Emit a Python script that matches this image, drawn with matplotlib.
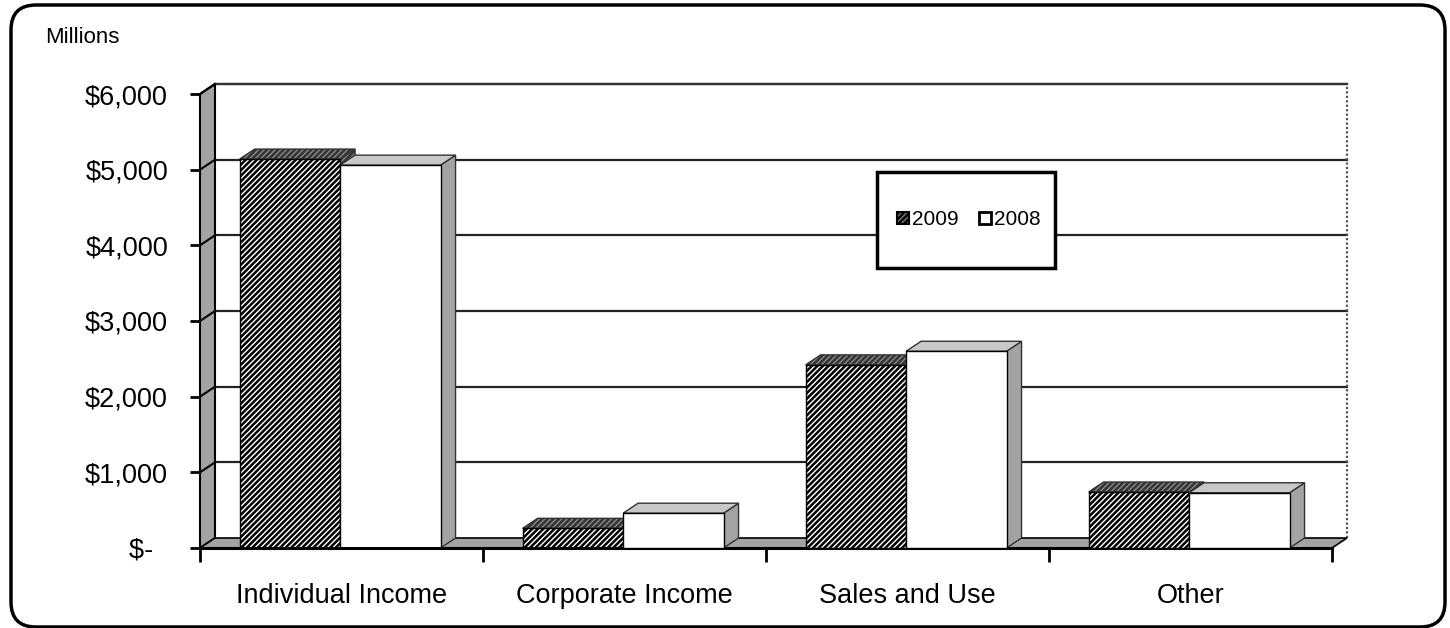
import matplotlib
matplotlib.use("Agg")
import matplotlib.pyplot as plt
import matplotlib.patches as mpatches
from matplotlib.transforms import IdentityTransform

categories = ["Individual Income", "Corporate Income", "Sales and Use", "Other"]
years = ["2009", "2008"]
values_2009 = [5140, 260, 2420, 740]
values_2008 = [5060, 460, 2600, 730]
ytick_values = [0, 1000, 2000, 3000, 4000, 5000, 6000]
ytick_labels = ["$-  ", "$1,000", "$2,000", "$3,000", "$4,000", "$5,000", "$6,000"]

plt.rcParams['font.family'] = ['Liberation Sans', 'DejaVu Sans']
plt.rcParams['hatch.linewidth'] = 1.8

W, H = 1450, 628
fig = plt.figure(figsize=(W / 100, H / 100), dpi=100)
ax = fig.add_axes([200 / W, (H - 548) / H, 1132 / W, 454 / H])
n = len(categories)
ax.set_xlim(0, n)
ax.set_ylim(0, 6000)
for s in ax.spines.values():
    s.set_visible(False)
ax.patch.set_visible(False)

# depth offset in data units (15 px right, 10 px up)
dx = 15 / 1132 * n
dy = 10 / 454 * 6000
ymax = 6000

grey = '#a3a3a3'
light = '#c8c8c8'

# back wall
ax.add_patch(mpatches.Polygon([(dx, dy), (n + dx, dy), (n + dx, ymax + dy), (dx, ymax + dy)],
                              closed=True, facecolor='white', edgecolor='none', zorder=0, clip_on=False))
for v in ytick_values[1:]:
    ax.plot([dx, n + dx], [v + dy, v + dy], color='#222222', lw=1.6, zorder=1, clip_on=False)
ax.plot([dx, n + dx], [ymax + dy, ymax + dy], color='#333333', lw=1.6, zorder=1, clip_on=False)
ax.plot([n + dx, n + dx], [dy, ymax + dy], color='#555555', lw=1.6, ls=(0, (1, 1)), zorder=1, clip_on=False)

# left wall
ax.add_patch(mpatches.Polygon([(0, 0), (dx, dy), (dx, ymax + dy), (0, ymax)],
                              closed=True, facecolor=grey, edgecolor='black', lw=1.5, zorder=2, clip_on=False))
for v in ytick_values[1:]:
    ax.plot([0, dx], [v, v + dy], color='black', lw=1.5, zorder=2.5, clip_on=False)

# floor
ax.add_patch(mpatches.Polygon([(0, 0), (n, 0), (n + dx, dy), (dx, dy)],
                              closed=True, facecolor=grey, edgecolor='black', lw=1.2, zorder=2, clip_on=False))
ax.plot([0, n], [0, 0], color='black', lw=2.2, zorder=6, clip_on=False)

bw = 0.355
off = [0.14, 0.495]
series = [values_2009, values_2008]
z = 3
for i in range(n):
    for k in range(2):
        x0 = i + off[k]
        v = series[k][i]
        if k == 0:
            fc_front, fc_top, fc_side, hatch = 'white', '#888888', '#888888', '//////'
        else:
            fc_front, fc_top, fc_side, hatch = 'white', light, grey, None
        # side face
        ax.add_patch(mpatches.Polygon([(x0 + bw, 0), (x0 + bw + dx, dy), (x0 + bw + dx, v + dy), (x0 + bw, v)],
                                      closed=True, facecolor=fc_side, edgecolor='#333333', lw=1.0,
                                      hatch=hatch, zorder=z, clip_on=False))
        # top face
        ax.add_patch(mpatches.Polygon([(x0, v), (x0 + dx, v + dy), (x0 + bw + dx, v + dy), (x0 + bw, v)],
                                      closed=True, facecolor=fc_top, edgecolor='#333333', lw=1.0,
                                      hatch=hatch, zorder=z, clip_on=False))
        # front face
        ax.bar([x0], [v], width=bw, align='edge', facecolor=fc_front, edgecolor='black',
               linewidth=1.0, hatch=hatch, zorder=z + 0.5, clip_on=False)
        z += 1

# ticks
ax.set_yticks(ytick_values)
ax.set_yticklabels(ytick_labels, fontsize=19.5)
ax.tick_params(axis='y', direction='out', length=7, width=2, pad=16, colors='black')
ax.set_xticks(range(n + 1))
ax.set_xticklabels([''] * (n + 1))
ax.tick_params(axis='x', which='major', direction='out', length=10, width=2)
ax.set_xticks([i + 0.5 for i in range(n)], minor=True)
ax.set_xticklabels(categories, minor=True, fontsize=19.5)
ax.tick_params(axis='x', which='minor', length=0, pad=25)

# Millions label
fig.text(45 / W, 1 - 43 / H, "Millions", fontsize=16, ha='left', va='baseline')

# legend
fig.add_artist(mpatches.Rectangle((877, H - 268), 178, 96, transform=IdentityTransform(),
                                  facecolor='white', edgecolor='black', lw=2.5, zorder=20))
handles = [mpatches.Patch(facecolor='#777777', edgecolor='black', hatch='//////', lw=1.5),
           mpatches.Patch(facecolor='white', edgecolor='black', lw=2)]
leg = fig.legend(handles, years, loc='center', bbox_to_anchor=(969 / W, 1 - 220 / H), ncol=2,
                 frameon=False, fontsize=15, handlelength=0.55, handleheight=0.55,
                 handletextpad=0.15, columnspacing=1.0, borderpad=0)
leg.set_zorder(21)

# rounded outer border
fig.add_artist(mpatches.FancyBboxPatch((11, 1), 1434, 622, boxstyle='round,pad=0,rounding_size=25',
                                       transform=IdentityTransform(), facecolor='none',
                                       edgecolor='black', lw=2.5, zorder=30))

fig.savefig("out.png", dpi=100)
